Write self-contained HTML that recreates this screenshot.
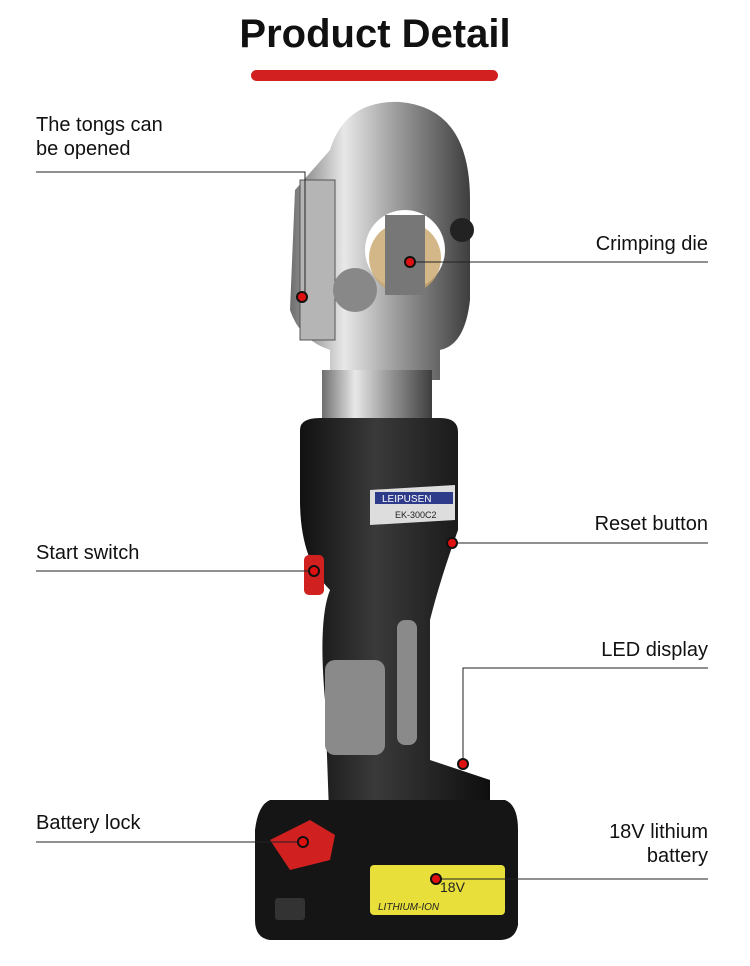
<!DOCTYPE html>
<html><head><meta charset="utf-8"><style>
html,body{margin:0;padding:0;background:#fff;}
.wrap{position:relative;width:750px;height:966px;overflow:hidden;font-family:"Liberation Sans",sans-serif;}
.t{position:absolute;font-size:20px;color:#111;line-height:24px;}
.r{text-align:right;right:42px;}
h1{position:absolute;top:12px;left:0;width:750px;text-align:center;margin:0;font-size:40px;font-weight:bold;color:#111;}
.bar{position:absolute;left:251px;top:70px;width:247px;height:11px;border-radius:6px;background:#d21f1f;}
svg{position:absolute;left:0;top:0;}
</style></head><body><div class="wrap">
<h1>Product Detail</h1>
<div class="bar"></div>
<svg width="750" height="966" viewBox="0 0 750 966">
<defs>
<linearGradient id="sil" x1="0" x2="1"><stop offset="0" stop-color="#6e6e6e"/><stop offset=".3" stop-color="#e8e8e8"/><stop offset=".6" stop-color="#9a9a9a"/><stop offset="1" stop-color="#3e3e3e"/></linearGradient>
<linearGradient id="blk" x1="0" x2="1"><stop offset="0" stop-color="#111"/><stop offset=".4" stop-color="#3a3a3a"/><stop offset="1" stop-color="#0e0e0e"/></linearGradient>
</defs>
<!-- head -->
<path d="M330 150 Q345 100 400 102 Q470 108 470 200 L470 300 Q465 345 440 350 L440 380 L330 380 L330 350 Q300 340 290 310 L295 190 Z" fill="url(#sil)"/>
<circle cx="405" cy="250" r="40" fill="#fff"/>
<circle cx="405" cy="258" r="36" fill="#c9a56a" opacity=".8"/>
<rect x="385" y="215" width="40" height="80" fill="#777"/>
<rect x="300" y="180" width="35" height="160" fill="#b5b5b5" stroke="#555"/>
<circle cx="462" cy="230" r="12" fill="#222"/>
<circle cx="355" cy="290" r="22" fill="#888"/>
<!-- cylinder -->
<rect x="322" y="370" width="110" height="60" fill="url(#sil)"/>
<!-- body -->
<path d="M300 430 Q300 418 320 418 L440 418 Q458 418 458 432 L458 530 Q440 580 430 620 L430 760 L490 780 L490 840 L330 840 L325 700 Q318 620 330 590 Q300 560 300 500 Z" fill="url(#blk)"/>
<path d="M370 490 L455 485 L455 520 L370 525 Z" fill="#ddd"/>
<rect x="375" y="492" width="78" height="12" fill="#2e3a8a"/>
<text x="382" y="502" font-size="10" fill="#fff" font-family="Liberation Sans">LEIPUSEN</text>
<text x="395" y="518" font-size="9" fill="#222" font-family="Liberation Sans">EK-300C2</text>
<rect x="325" y="660" width="60" height="95" rx="10" fill="#8a8a8a"/>
<rect x="397" y="620" width="20" height="125" rx="8" fill="#8a8a8a"/>
<rect x="304" y="555" width="20" height="40" rx="5" fill="#d02020"/>
<!-- battery -->
<path d="M270 800 L505 800 Q518 805 518 830 L518 925 Q515 940 500 940 L270 940 Q255 938 255 920 L255 830 Q258 805 270 800 Z" fill="#151515"/>
<rect x="370" y="865" width="135" height="50" rx="4" fill="#e8df3a"/>
<text x="378" y="910" font-size="10" fill="#222" font-family="Liberation Sans" font-style="italic">LITHIUM-ION</text>
<text x="440" y="892" font-size="14" fill="#222" font-family="Liberation Sans">18V</text>
<path d="M270 840 L310 820 L335 835 L330 860 L290 870 Z" fill="#d02020"/>
<rect x="275" y="898" width="30" height="22" rx="3" fill="#333"/>
<!-- lines -->
<g stroke="#222" stroke-width="1" fill="none">
<polyline points="36,172 305,172 305,297"/>
<line x1="410" y1="262" x2="708" y2="262"/>
<line x1="452" y1="543" x2="708" y2="543"/>
<line x1="36" y1="571" x2="314" y2="571"/>
<polyline points="708,668 463,668 463,764"/>
<line x1="36" y1="842" x2="303" y2="842"/>
<line x1="436" y1="879" x2="708" y2="879"/>
</g>
<g fill="#e01010" stroke="#111" stroke-width="2">
<circle cx="302" cy="297" r="5"/><circle cx="410" cy="262" r="5"/><circle cx="452" cy="543" r="5"/>
<circle cx="314" cy="571" r="5"/><circle cx="463" cy="764" r="5"/><circle cx="303" cy="842" r="5"/><circle cx="436" cy="879" r="5"/>
</g>
</svg>
<div class="t" style="left:36px;top:113px;">The tongs can<br>be opened</div>
<div class="t r" style="top:232px;">Crimping die</div>
<div class="t r" style="top:512px;">Reset button</div>
<div class="t" style="left:36px;top:541px;">Start switch</div>
<div class="t r" style="top:638px;">LED display</div>
<div class="t" style="left:36px;top:811px;">Battery lock</div>
<div class="t r" style="top:820px;">18V lithium<br>battery</div>
</div></body></html>
